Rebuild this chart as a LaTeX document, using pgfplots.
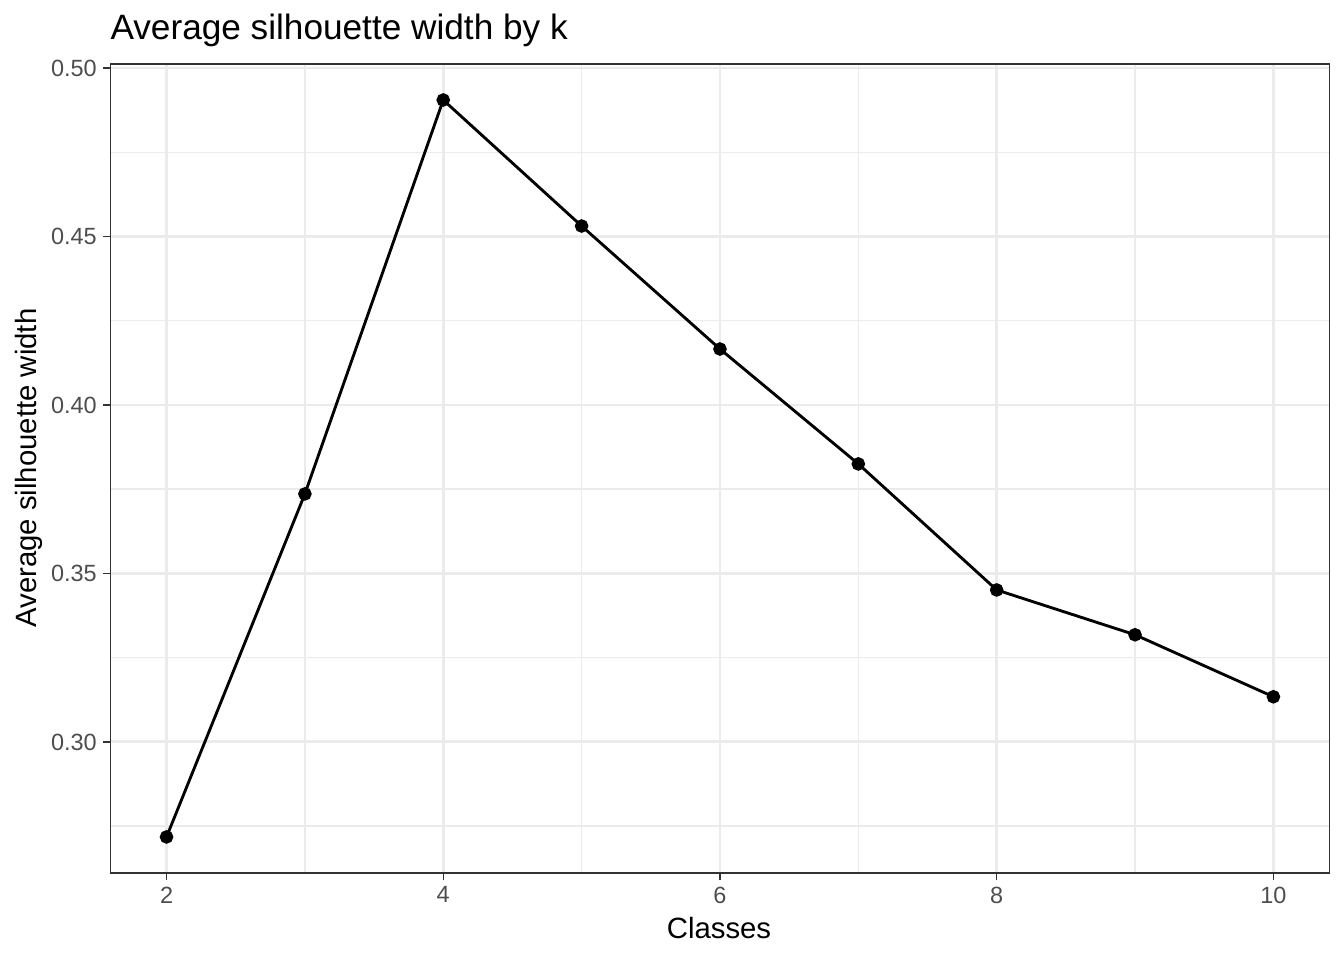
\documentclass[border=0pt]{standalone}
\usepackage{fontspec}
\setmainfont{Liberation Sans}
\usepackage{pgfplots}
\pgfplotsset{compat=1.18}
\definecolor{gridc}{HTML}{EBEBEB}
\definecolor{grey20}{HTML}{333333}
\definecolor{grey30}{HTML}{4D4D4D}
\begin{document}
\begin{tikzpicture}[x=0.375pt,y=0.375pt]
\path[use as bounding box] (0,0) rectangle (1344,960);
\begin{axis}[
  at={(110.5pt*0.375,87pt*0.375)}, anchor=south west, scale only axis,
  width=457.1pt, height=303.4pt,
  xmin=1.595, xmax=10.405, ymin=0.2611, ymax=0.5012,
  xtick={2,4,6,8,10}, minor xtick={3,5,7,9},
  ytick={0.30,0.35,0.40,0.45,0.50}, minor ytick={0.275,0.325,0.375,0.425,0.475},
  grid=both,
  major grid style={color=gridc, line width=1.07pt},
  minor grid style={color=gridc, line width=0.53pt},
  axis line style={grey20, line width=0.55pt},
  tick style={grey20, line width=0.55pt},
  tick align=outside, tick pos=left,
  major tick length=2.75pt, minor tick length=0pt,
  /pgf/number format/assume math mode=true,
  ticklabel style={font=\fontsize{8.8}{10}\selectfont, text=grey30, inner sep=0pt},
  xticklabel style={yshift=-2.2pt},
  yticklabel style={xshift=-2.2pt, /pgf/number format/.cd, fixed, fixed zerofill, precision=2},
  axis on top=false,
  clip=false,
]
\addplot[black, line width=1.07pt, mark=*, mark size=2pt, mark options={solid, fill=black, draw=black}] coordinates {
  (2,0.2718) (3,0.3736) (4,0.4905) (5,0.4531) (6,0.4166)
  (7,0.3825) (8,0.3451) (9,0.3318) (10,0.3134)
};
\end{axis}
\node[anchor=base west, inner sep=0pt, font=\fontsize{13.2}{15}\selectfont] at (110,920) {Average silhouette width by k};
\node[anchor=base, inner sep=0pt, font=\fontsize{11}{13}\selectfont] at (719,22) {Classes};
\node[anchor=base, rotate=90, inner sep=0pt, font=\fontsize{11}{13}\selectfont] at (37,492) {Average silhouette width};
\end{tikzpicture}
\end{document}
